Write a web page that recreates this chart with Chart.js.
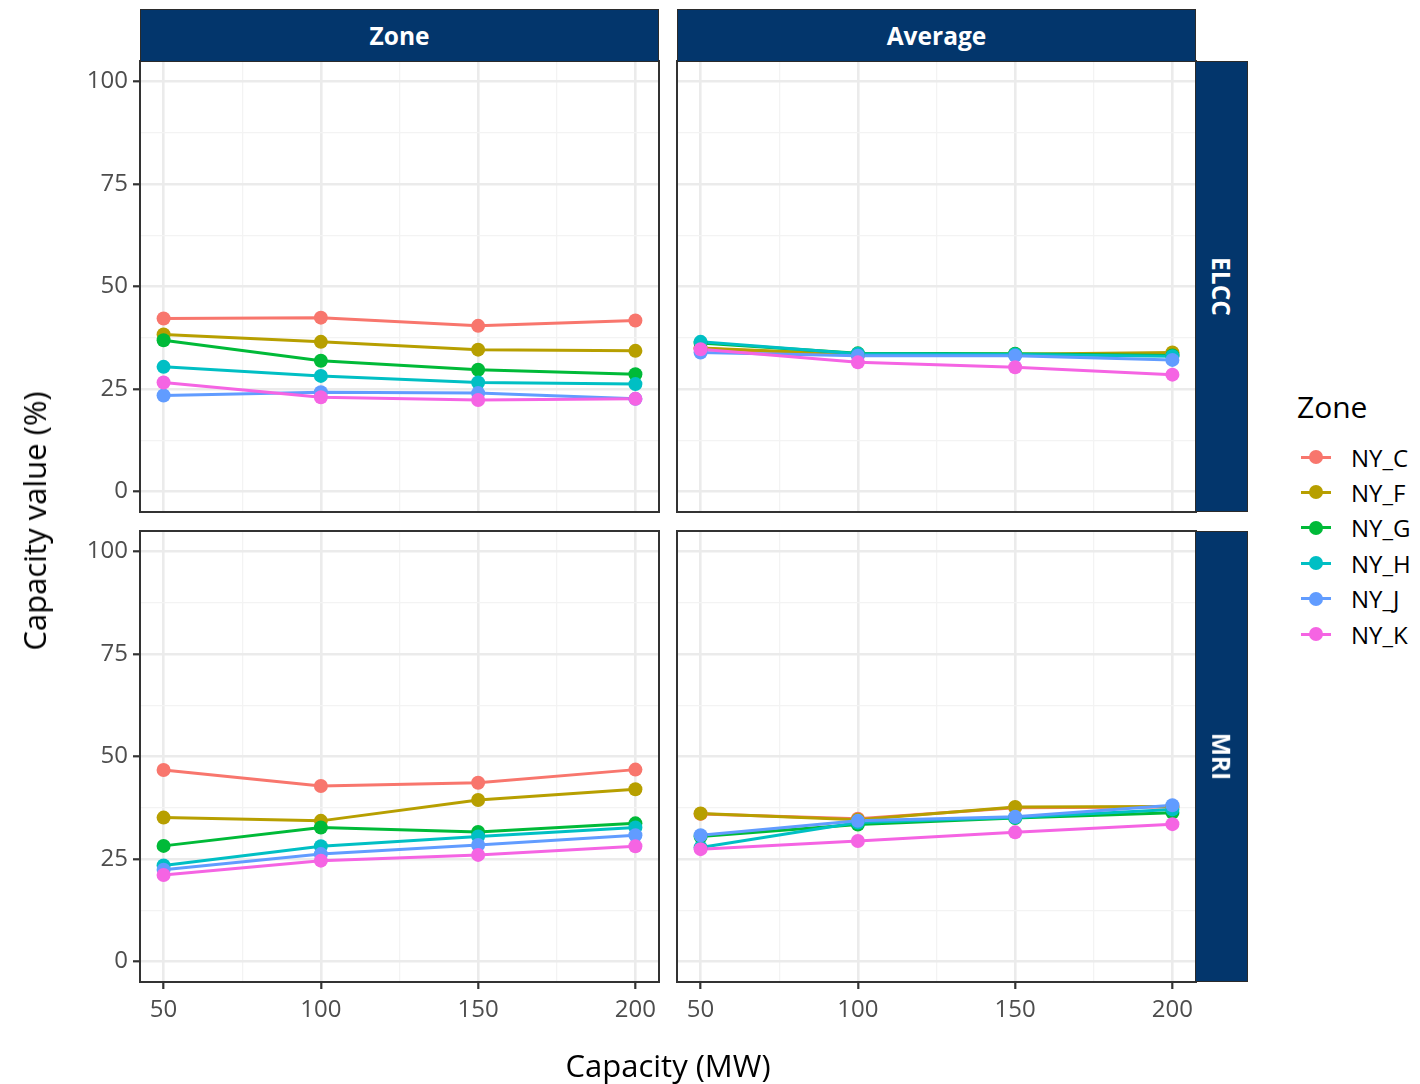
<!DOCTYPE html>
<html>
<head>
<meta charset="utf-8">
<title>Capacity value by zone</title>
<script src="https://cdn.jsdelivr.net/npm/chart.js@4/dist/chart.umd.min.js"></script>
<style>
  html, body { margin: 0; padding: 0; background: #fff; }
  body { width: 1420px; height: 1084px; position: relative; overflow: hidden; font-family: "Open Sans", "Noto Sans", sans-serif; }
  canvas { position: absolute; }
  .strip { position: absolute; background: #03366c; border: 1.5px solid #2b2b2b; box-sizing: border-box;
           color: #fff; font-weight: 700; font-size: 24.5px; display: flex; align-items: center; justify-content: center; }
  .strip.side span { transform: rotate(90deg); white-space: nowrap; display: inline-block; }
  .axis-title { position: absolute; font-size: 31px; color: #000; white-space: nowrap; }
  .legend-title { position: absolute; font-size: 30px; color: #000; }
  .legend-item { position: absolute; height: 30px; display: flex; align-items: center; font-size: 24px; color: #000; }
  .legend-key { position: relative; width: 30px; height: 30px; margin-right: 20px; }
  .legend-key .ln { position: absolute; left: 0; right: 0; top: 13.5px; height: 3px; }
  .legend-key .dt { position: absolute; left: 8px; top: 8px; width: 14px; height: 14px; border-radius: 50%; }
</style>
</head>
<body>
<script>
// ---- data ----
const capacities = [50, 100, 150, 200];
const zones = ['NY_C', 'NY_F', 'NY_G', 'NY_H', 'NY_J', 'NY_K'];
const zoneColors = ['#F8766D', '#B79F00', '#00BA38', '#00BFC4', '#619CFF', '#F564E3'];
const methodLabels = ['Zone', 'Average'];
const metricLabels = ['ELCC', 'MRI'];
const xTickLabels = [50, 100, 150, 200];
const yTickLabels = [0, 25, 50, 75, 100];

// ELCC, zonal method
const elccZone_NY_C = [42.2, 42.4, 40.4, 41.7];
const elccZone_NY_F = [38.3, 36.5, 34.6, 34.3];
const elccZone_NY_G = [36.9, 31.9, 29.7, 28.6];
const elccZone_NY_H = [30.4, 28.2, 26.6, 26.2];
const elccZone_NY_J = [23.4, 24.2, 24.0, 22.6];
const elccZone_NY_K = [26.6, 23.0, 22.3, 22.6];

// ELCC, average method
const elccAvg_NY_C = [34.9, 33.3, 33.4, 33.5];
const elccAvg_NY_F = [35.0, 33.4, 33.5, 33.9];
const elccAvg_NY_G = [36.2, 33.7, 33.6, 33.2];
const elccAvg_NY_H = [36.5, 33.6, 33.4, 33.0];
const elccAvg_NY_J = [33.9, 33.1, 33.1, 32.1];
const elccAvg_NY_K = [34.7, 31.5, 30.3, 28.5];

// MRI, zonal method
const mriZone_NY_C = [46.7, 42.8, 43.6, 46.8];
const mriZone_NY_F = [35.1, 34.3, 39.4, 42.0];
const mriZone_NY_G = [28.2, 32.7, 31.6, 33.7];
const mriZone_NY_H = [23.4, 28.1, 30.5, 32.7];
const mriZone_NY_J = [22.4, 26.2, 28.4, 30.8];
const mriZone_NY_K = [21.1, 24.6, 26.0, 28.1];

// MRI, average method
const mriAvg_NY_C = [36.0, 34.8, 37.5, 37.7];
const mriAvg_NY_F = [36.1, 34.6, 37.7, 37.8];
const mriAvg_NY_G = [30.5, 33.4, 35.0, 36.3];
const mriAvg_NY_H = [27.8, 33.9, 35.1, 37.1];
const mriAvg_NY_J = [30.8, 34.3, 35.3, 38.1];
const mriAvg_NY_K = [27.4, 29.4, 31.5, 33.5];

// panel grid: rows = metric, columns = method
const panels = [
  [ [elccZone_NY_C, elccZone_NY_F, elccZone_NY_G, elccZone_NY_H, elccZone_NY_J, elccZone_NY_K],
    [elccAvg_NY_C, elccAvg_NY_F, elccAvg_NY_G, elccAvg_NY_H, elccAvg_NY_J, elccAvg_NY_K] ],
  [ [mriZone_NY_C, mriZone_NY_F, mriZone_NY_G, mriZone_NY_H, mriZone_NY_J, mriZone_NY_K],
    [mriAvg_NY_C, mriAvg_NY_F, mriAvg_NY_G, mriAvg_NY_H, mriAvg_NY_J, mriAvg_NY_K] ]
];

// ---- layout ----
const FONT = '"Open Sans", "Noto Sans", sans-serif';
const colLeft = [140, 677], rowTop = [61, 531];
const PW = 519, PH = 451;
const ML = 140, MT = 20, MR = 20, MB = 70;
const xMinor = [75, 125, 175], yMinor = [12.5, 37.5, 62.5, 87.5];

const panelBorder = {
  id: 'panelBorder',
  afterDraw(chart) {
    const { ctx, chartArea: a } = chart;
    ctx.save();
    ctx.strokeStyle = '#333333';
    ctx.lineWidth = 2;
    ctx.strokeRect(a.left, a.top, a.right - a.left, a.bottom - a.top);
    ctx.restore();
  }
};

function gridOpts(majors, showTicks) {
  const isMajor = ctx => ctx.tick && majors.includes(ctx.tick.value);
  return {
    drawTicks: showTicks,
    tickLength: 7,
    tickWidth: 2.2,
    tickColor: ctx => isMajor(ctx) ? '#333333' : 'rgba(0,0,0,0)',
    color: ctx => isMajor(ctx) ? '#ebebeb' : '#f3f3f3',
    lineWidth: ctx => isMajor(ctx) ? 2.6 : 1.3
  };
}

function makePanel(r, c) {
  const canvas = document.createElement('canvas');
  const w = PW + ML + MR, h = PH + MT + MB;
  canvas.width = w; canvas.height = h;
  canvas.style.left = (colLeft[c] - ML) + 'px';
  canvas.style.top = (rowTop[r] - MT) + 'px';
  canvas.style.width = w + 'px'; canvas.style.height = h + 'px';
  document.body.appendChild(canvas);

  const series = panels[r][c];
  const datasets = [];
  zones.forEach((z, i) => {
    const pts = capacities.map((x, j) => ({ x, y: series[i][j] }));
    datasets.push({ label: z, data: pts, borderColor: zoneColors[i], borderWidth: 3,
                    pointRadius: 0, pointHoverRadius: 0, fill: false, tension: 0, order: 20 - i });
    datasets.push({ label: z + ' points', data: pts, showLine: false, pointRadius: 7,
                    pointBackgroundColor: zoneColors[i], pointBorderWidth: 0, pointHoverRadius: 7,
                    order: 10 - i });
  });

  const showX = r === 1, showY = c === 0;
  new Chart(canvas, {
    type: 'line',
    data: { datasets },
    plugins: [panelBorder],
    options: {
      responsive: false, animation: false, devicePixelRatio: 1,
      layout: { padding: { top: MT, right: MR, left: 0, bottom: 0 } },
      plugins: { legend: { display: false }, tooltip: { enabled: false } },
      scales: {
        x: {
          type: 'linear', min: 42.5, max: 207.5,
          afterBuildTicks: s => { s.ticks = xTickLabels.concat(xMinor).sort((a, b) => a - b).map(v => ({ value: v })); },
          afterFit: s => { s.height = MB; },
          border: { display: false },
          grid: gridOpts(xTickLabels, showX),
          ticks: { display: showX, autoSkip: false, maxRotation: 0, padding: 7, color: '#4d4d4d',
                   font: { family: FONT, size: 24 },
                   callback: v => xTickLabels.includes(v) ? String(v) : '' }
        },
        y: {
          type: 'linear', min: -5, max: 105,
          afterBuildTicks: s => { s.ticks = yTickLabels.concat(yMinor).sort((a, b) => a - b).map(v => ({ value: v })); },
          afterFit: s => { s.width = ML; },
          border: { display: false },
          grid: gridOpts(yTickLabels, showY),
          ticks: { display: showY, autoSkip: false, padding: 5, color: '#4d4d4d',
                   font: { family: FONT, size: 24 },
                   callback: v => yTickLabels.includes(v) ? String(v) : '' }
        }
      }
    }
  });
}

for (let r = 0; r < 2; r++) for (let c = 0; c < 2; c++) makePanel(r, c);

// facet strips
methodLabels.forEach((t, c) => {
  const d = document.createElement('div');
  d.className = 'strip';
  d.style.left = colLeft[c] + 'px'; d.style.top = '9px';
  d.style.width = PW + 'px'; d.style.height = '53px';
  d.textContent = t;
  document.body.appendChild(d);
});
metricLabels.forEach((t, r) => {
  const d = document.createElement('div');
  d.className = 'strip side';
  d.style.left = (colLeft[1] + PW - 1) + 'px'; d.style.top = rowTop[r] + 'px';
  d.style.width = '53px'; d.style.height = PH + 'px';
  const s = document.createElement('span'); s.textContent = t;
  d.appendChild(s);
  document.body.appendChild(d);
});

// axis titles
const xt = document.createElement('div');
xt.className = 'axis-title'; xt.textContent = 'Capacity (MW)';
xt.style.left = '668px'; xt.style.top = '1065px'; xt.style.transform = 'translate(-50%, -50%)';
document.body.appendChild(xt);
const yt = document.createElement('div');
yt.className = 'axis-title'; yt.textContent = 'Capacity value (%)';
yt.style.left = '34px'; yt.style.top = '521px'; yt.style.transform = 'translate(-50%, -50%) rotate(-90deg)';
document.body.appendChild(yt);

// legend
const lt = document.createElement('div');
lt.className = 'legend-title'; lt.textContent = 'Zone';
lt.style.left = '1297px'; lt.style.top = '386px';
document.body.appendChild(lt);
zones.forEach((z, i) => {
  const it = document.createElement('div');
  it.className = 'legend-item';
  it.style.left = '1301px'; it.style.top = (442 + i * 35.4) + 'px';
  it.innerHTML = '<div class="legend-key"><div class="ln" style="background:' + zoneColors[i] +
    '"></div><div class="dt" style="background:' + zoneColors[i] + '"></div></div><span>' + z + '</span>';
  document.body.appendChild(it);
});
</script>
</body>
</html>
